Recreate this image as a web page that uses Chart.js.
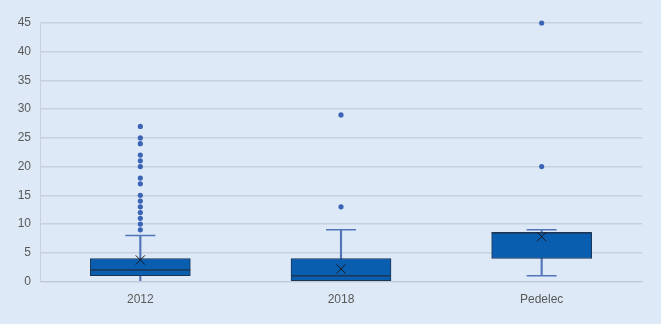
<!DOCTYPE html>
<html>
<head>
<meta charset="utf-8">
<script src="https://cdn.jsdelivr.net/npm/chart.js@4.4.1/dist/chart.umd.min.js"></script>
<style>
html,body{margin:0;padding:0;background:#dde9f6;}
#wrap{width:661px;height:324px;position:relative;}
</style>
</head>
<body>
<div id="wrap"><canvas id="c" width="661" height="324"></canvas></div>
<script>
const categories = ['2012', '2018', 'Pedelec'];
const mins    = [0, 0, 1];
const q1s     = [1, 0, 4];
const medians = [2, 1, 8.5];
const q3s     = [4, 4, 8.5];
const maxs    = [8, 9, 9];
const means   = [3.75, 2.2, 7.8];
const outliers2012    = [27, 25, 24, 22, 21, 20, 18, 17, 15, 14, 13, 12, 11, 10, 9];
const outliers2018    = [29, 13];
const outliersPedelec = [45, 20];
const yTicks = [0, 5, 10, 15, 20, 25, 30, 35, 40, 45];

const outlierLists = [outliers2012, outliers2018, outliersPedelec];
const outlierPoints = [];
outlierLists.forEach((arr, i) => arr.forEach(v => outlierPoints.push({x: categories[i], y: v})));
const capPoints = [];
categories.forEach((c, i) => { capPoints.push({x: c, y: maxs[i]}); capPoints.push({x: c, y: mins[i]}); });

const whisker = '#5276b9';
const dark = '#1d3656';

new Chart(document.getElementById('c'), {
  type: 'bar',
  data: {
    labels: categories,
    datasets: [
      { type: 'bar', data: categories.map((c, i) => [mins[i], maxs[i]]), backgroundColor: whisker,
        barThickness: 1.5, grouped: false, order: 6 },
      { type: 'bar', data: categories.map((c, i) => [q1s[i], q3s[i]]), backgroundColor: '#0a5eb0',
        borderColor: dark, borderWidth: 1, borderSkipped: false, barThickness: 100, grouped: false, order: 5 },
      { type: 'line', data: categories.map((c, i) => ({x: c, y: medians[i]})), showLine: false,
        pointStyle: 'line', pointRadius: 50, borderColor: dark, borderWidth: 1.5, order: 3 },
      { type: 'line', data: capPoints, showLine: false, pointStyle: 'line',
        pointRadius: ctx => (ctx.raw && ctx.raw.y === 0) ? 0 : 15, borderColor: whisker, borderWidth: 1.5, order: 3 },
      { type: 'line', data: categories.map((c, i) => ({x: c, y: means[i]})), showLine: false,
        pointStyle: 'crossRot', pointRadius: 6.5, borderColor: '#1a1a1a', borderWidth: 1, order: 1 },
      { type: 'line', data: outlierPoints, showLine: false, pointStyle: 'circle', clip: false,
        pointRadius: 2.6, backgroundColor: '#3c64b6', borderWidth: 0, order: 1 }
    ]
  },
  options: {
    responsive: false,
    animation: false,
    events: [],
    layout: { autoPadding: false, padding: { top: 23, right: 19, left: 0, bottom: 0 } },
    plugins: { legend: { display: false }, tooltip: { enabled: false } },
    scales: {
      x: {
        type: 'category',
        grid: { display: false, drawTicks: false },
        border: { display: true, color: '#bfcad6', width: 1 },
        ticks: { color: '#595959', font: { family: 'Liberation Sans', size: 12 }, padding: 11 },
        afterFit: s => { s.height = 42.5; }
      },
      y: {
        min: 0, max: 45,
        afterBuildTicks: s => { s.ticks = yTicks.map(v => ({value: v})); },
        grid: { color: '#c6d1dd', lineWidth: 1.5, drawTicks: false },
        border: { display: true, color: '#c6d1dd', width: 1 },
        ticks: { color: '#595959', font: { family: 'Liberation Sans', size: 12 }, padding: 9 },
        afterFit: s => { s.width = 40; }
      }
    }
  }
});
</script>
</body>
</html>
